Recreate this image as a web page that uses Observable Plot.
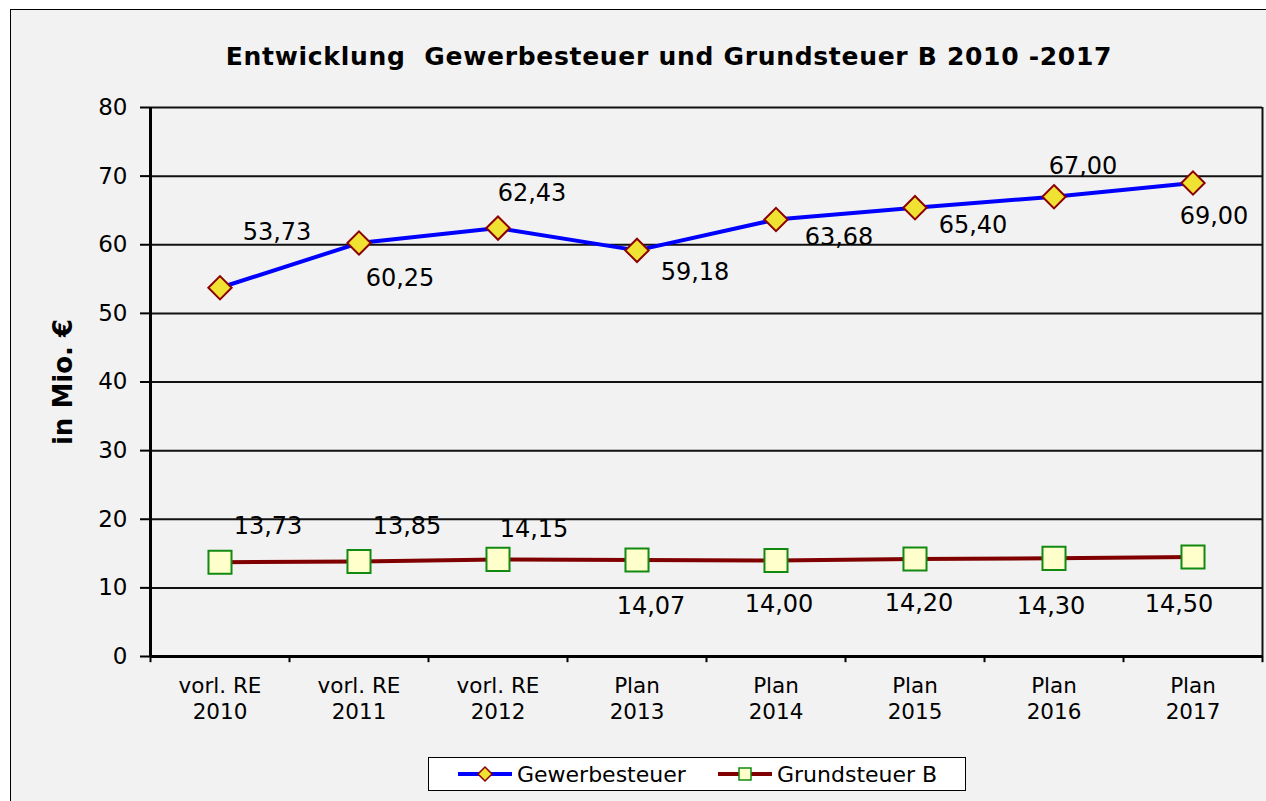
<!DOCTYPE html>
<html>
<head>
<meta charset="utf-8">
<script src="https://cdn.jsdelivr.net/npm/d3@7"></script>
<script src="https://cdn.jsdelivr.net/npm/@observablehq/plot@0.6"></script>
<style>
  html, body { margin: 0; padding: 0; background: #ffffff; }
  body { width: 1266px; height: 801px; position: relative; overflow: hidden; font-family: "DejaVu Sans", Verdana, sans-serif; }
  #frame { position: absolute; left: 10px; top: 9px; width: 1260px; height: 800px; border-left: 1px solid #000; border-top: 1px solid #000; background: #f2f2f2; }
  #title { position: absolute; left: 0; width: 1338px; top: 42px; text-align: center; font-weight: bold; font-size: 25px; letter-spacing: 0.7px; line-height: 30px; color: #000; white-space: pre; }
  #chart { position: absolute; left: 0; top: 80px; }
  #legend { position: absolute; left: 428px; top: 757px; width: 538px; height: 34px; background: #fff; border: 1px solid #000; box-sizing: border-box; }
  #legend svg { position: absolute; left: 0; top: 0; }
</style>
</head>
<body>
<div id="frame"></div>
<div id="title">Entwicklung  Gewerbesteuer und Grundsteuer B 2010 -2017</div>
<div id="chart"></div>
<div id="legend"></div>
<script>
// ---- data ----
const categories = ["vorl. RE\n2010", "vorl. RE\n2011", "vorl. RE\n2012", "Plan\n2013", "Plan\n2014", "Plan\n2015", "Plan\n2016", "Plan\n2017"];
const gewerbesteuer = [53.73, 60.25, 62.43, 59.18, 63.68, 65.40, 67.00, 69.00];
const grundsteuerB = [13.73, 13.85, 14.15, 14.07, 14.00, 14.20, 14.30, 14.50];
const yTicks = [0, 10, 20, 30, 40, 50, 60, 70, 80];
const seriesNames = ["Gewerbesteuer", "Grundsteuer B"];
const yLabel = "in Mio. €";

// ---- label placement (pixels) ----
const gewOffsets = [[57, -55], [41, 35], [34, -35], [58, 22], [63, 18], [58, 18], [29, -30], [21, 33]];
const grundOffsets = [[48, -36], [48, -35], [36, -30], [14, 46], [3, 44], [4, 44], [-3, 48], [-14, 47]];

const fmt = v => v.toFixed(2).replace(".", ",");
const idx = categories.map((_, i) => i);
const gewData = idx.map(i => ({i, v: gewerbesteuer[i]}));
const grundData = idx.map(i => ({i, v: grundsteuerB[i]}));
const boundaries = d3.range(categories.length + 1).map(i => i - 0.5);

const labelMarks = [];
gewData.forEach((d, k) => labelMarks.push(Plot.text([d], {x: "i", y: "v", text: d => fmt(d.v), dx: gewOffsets[k][0], dy: gewOffsets[k][1], fontSize: 24, fill: "#000"})));
grundData.forEach((d, k) => labelMarks.push(Plot.text([d], {x: "i", y: "v", text: d => fmt(d.v), dx: grundOffsets[k][0], dy: grundOffsets[k][1], fontSize: 24, fill: "#000"})));

const chart = Plot.plot({
  width: 1266,
  height: 650,
  marginLeft: 150,
  marginRight: 4,
  marginTop: 27,
  marginBottom: 74,
  style: {background: "transparent", fontFamily: "'DejaVu Sans', Verdana, sans-serif", color: "#000"},
  x: {type: "linear", domain: [-0.5, categories.length - 0.5]},
  y: {domain: [0, 80]},
  marks: [
    Plot.ruleY(yTicks.filter(t => t > 0), {stroke: "#111", strokeWidth: 2}),
    Plot.ruleX([categories.length - 0.5], {y1: 0, y2: 80, stroke: "#111", strokeWidth: 2}),
    Plot.ruleX(boundaries, {y1: 0, y2: -0.9, stroke: "#000", strokeWidth: 2}),
    Plot.axisY({ticks: yTicks, tickSize: 10, tickPadding: 13, fontSize: 23, label: null, stroke: "#000", strokeWidth: 2}),
    Plot.axisX({ticks: idx, tickSize: 0, tickPadding: 19, fontSize: 21.5, lineHeight: 1.17, tickFormat: i => categories[i], label: null}),
    Plot.ruleX([-0.5], {y1: 0, y2: 80, stroke: "#000", strokeWidth: 3}),
    Plot.ruleY([0], {stroke: "#000", strokeWidth: 3}),
    Plot.text([yLabel], {frameAnchor: "left", textAnchor: "middle", rotate: -90, dx: -87, fontSize: 26, fontWeight: "bold", fill: "#000"}),
    Plot.line(gewData, {x: "i", y: "v", stroke: "#0000ff", strokeWidth: 4}),
    Plot.line(grundData, {x: "i", y: "v", stroke: "#800000", strokeWidth: 4}),
    Plot.dot(gewData, {x: "i", y: "v", symbol: "diamond2", r: 10.5, fill: "#f0e232", stroke: "#8b0000", strokeWidth: 2}),
    Plot.dot(grundData, {x: "i", y: "v", symbol: "square", r: 13, fill: "#ffffcc", stroke: "#128a12", strokeWidth: 2}),
    ...labelMarks
  ]
});
document.getElementById("chart").appendChild(chart);

// legend
const lg = d3.select("#legend").append("svg").attr("width", 538).attr("height", 34);
const items = [
  {name: seriesNames[0], x0: 29, stroke: "#0000ff", sym: "diamond"},
  {name: seriesNames[1], x0: 289, stroke: "#800000", sym: "square"}
];
items.forEach(it => {
  const g = lg.append("g");
  g.append("line").attr("x1", it.x0).attr("x2", it.x0 + 54).attr("y1", 16).attr("y2", 16).attr("stroke", it.stroke).attr("stroke-width", 4);
  const cx = it.x0 + 27;
  if (it.sym === "diamond") {
    g.append("path").attr("d", `M${cx},9 L${cx+7},16 L${cx},23 L${cx-7},16 Z`).attr("fill", "#f0e232").attr("stroke", "#8b0000").attr("stroke-width", 1.5);
  } else {
    g.append("rect").attr("x", cx - 6).attr("y", 10).attr("width", 12).attr("height", 12).attr("fill", "#ffffcc").attr("stroke", "#128a12").attr("stroke-width", 1.5);
  }
  g.append("text").attr("x", it.x0 + 59).attr("y", 16).attr("dy", "0.35em").attr("font-size", 22).attr("font-family", "'DejaVu Sans', Verdana, sans-serif").attr("fill", "#000").text(it.name);
});
</script>
</body>
</html>
